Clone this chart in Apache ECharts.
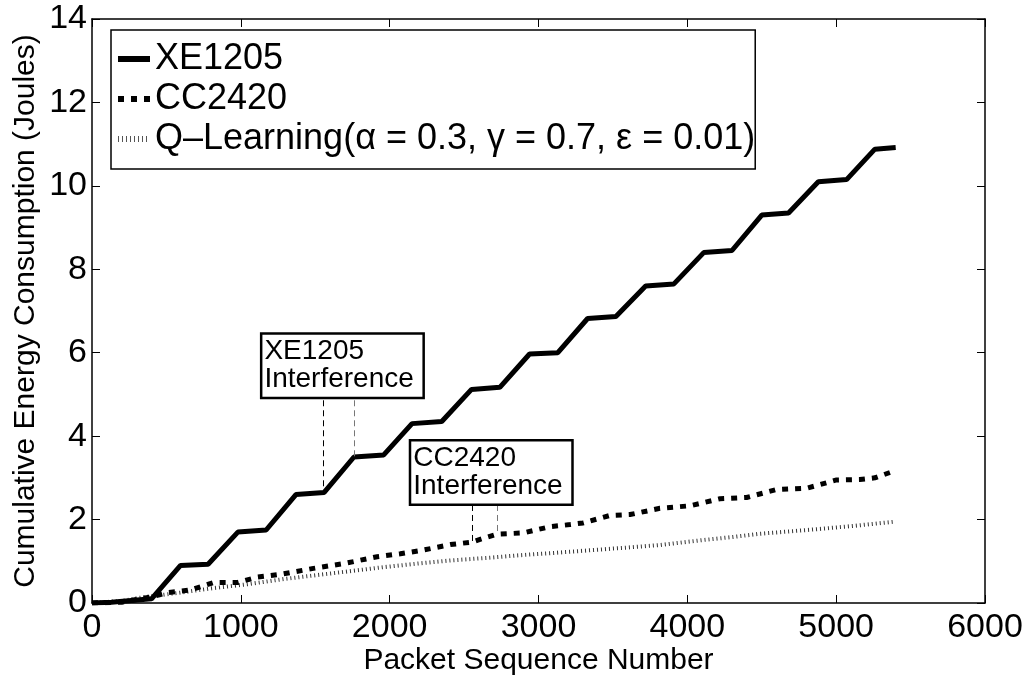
<!DOCTYPE html>
<html>

<head>
	<title>Cumulative Energy</title>
	<script src="https://cdn.jsdelivr.net/npm/echarts@6/dist/echarts.min.js"></script>
</head>

<body style="margin:0;background:#fff;">
	<div id="main" style="width: 1030px;height:677px;"></div>
	<script type="text/javascript">
	var myChart = echarts.init(document.getElementById('main'));

	// XE1205
	var xeX = [0, 130, 400, 595, 780, 980, 1170, 1370, 1560, 1760, 1960, 2150, 2350, 2550, 2740, 2940, 3130, 3330, 3520, 3720, 3910, 4110, 4300, 4500, 4680, 4880, 5070, 5260, 5400];
	var xeY = [0, 0.02, 0.1, 0.9, 0.93, 1.7, 1.75, 2.6, 2.65, 3.5, 3.55, 4.3, 4.35, 5.12, 5.17, 5.97, 6.0, 6.82, 6.87, 7.6, 7.65, 8.4, 8.45, 9.3, 9.35, 10.1, 10.15, 10.88, 10.92];

	// CC2420
	var ccX = [0, 200, 280, 400, 507, 662, 818, 977, 1112, 1287, 1488, 1700, 1916, 2072, 2227, 2408, 2553, 2630, 2722, 2897, 3078, 3212, 3300, 3481, 3615, 3816, 4017, 4219, 4398, 4600, 4801, 5003, 5159, 5260, 5394];
	var ccY = [0, 0.02, 0.07, 0.15, 0.25, 0.31, 0.49, 0.49, 0.62, 0.7, 0.83, 0.95, 1.11, 1.18, 1.27, 1.4, 1.46, 1.55, 1.65, 1.68, 1.83, 1.88, 1.92, 2.1, 2.12, 2.27, 2.33, 2.5, 2.53, 2.72, 2.75, 2.95, 2.96, 3.0, 3.17];

	// Q-Learning
	var qlX = [0, 200, 328, 596, 800, 1045, 1300, 1514, 1750, 1960, 2200, 2408, 2650, 2855, 3100, 3369, 3600, 3816, 4107, 4300, 4488, 4700, 4937, 5150, 5394];
	var qlY = [0, 0.05, 0.13, 0.25, 0.35, 0.45, 0.58, 0.67, 0.77, 0.86, 0.95, 1.02, 1.08, 1.14, 1.2, 1.27, 1.33, 1.39, 1.51, 1.58, 1.66, 1.72, 1.79, 1.86, 1.95];

	var seriesNames = ['XE1205', 'CC2420', 'Q\u2013Learning(\u03b1 = 0.3, \u03b3 = 0.7, \u03b5 = 0.01)'];

	// interference markers: [x, top, bottom]
	var xeMarks = [[1557, 4.86, 2.65], [1763, 4.86, 3.5]];
	var ccMarks = [[2553, 2.35, 1.48], [2721, 2.35, 1.66]];

	function pairs(xs, ys) {
		return xs.map(function(x, i) { return [x, ys[i]]; });
	}

	function vlines(marks) {
		return marks.map(function(m, i) {
			return [{
				coord: [m[0], m[1]],
				lineStyle: { color: i === 0 ? '#000' : '#777' }
			}, { coord: [m[0], m[2]] }];
		});
	}

	// legend icons drawn as little line samples
	var dotted = '';
	for (var i = 0; i < 32; i += 4) dotted += 'M' + i + ',0h1v6h-1Z';
	var icons = [
		'path://M0,0H32V6H0Z',
		'path://M0,0H6V6H0ZM13,0H19V6H13ZM26,0H32V6H26Z',
		'path://' + dotted + 'M0,0h0.01v0.01h-0.01ZM32,6h-0.01v-0.01h0.01Z'
	];

	var font = 'Liberation Sans, Arial, sans-serif';

	var boxLabel = {
		show: true,
		position: 'inside',
		align: 'left',
		verticalAlign: 'middle',
		fontFamily: font,
		fontSize: 28,
		lineHeight: 28,
		color: '#000',
		backgroundColor: '#fff',
		borderColor: '#000',
		borderWidth: 2.5,
		width: 152,
		padding: [3, 6, 3, 2]
	};

	function box(coord, text) {
		return {
			symbol: 'rect',
			symbolSize: 0,
			label: boxLabel,
			data: [{ coord: coord, value: text, label: { formatter: text } }]
		};
	}

	var ax = {
		axisLine: { onZero: false, lineStyle: { color: '#000', width: 1.5 } },
		axisTick: { inside: true, length: 8, lineStyle: { color: '#000', width: 1 } },
		splitLine: { show: false }
	};

	option = {
		animation: false,
		backgroundColor: '#fff',
		grid: {
			left: 92,
			right: 45,
			top: 19,
			bottom: 74,
			containLabel: false,
			outerBoundsMode: 'none'
		},
		legend: {
			orient: 'vertical',
			left: 111,
			top: 30,
			backgroundColor: '#fff',
			borderColor: '#000',
			borderWidth: 1.5,
			borderRadius: 0,
			padding: [-2, 0, -1, 7],
			itemGap: -22,
			itemWidth: 32,
			itemHeight: 6,
			textStyle: { fontFamily: font, fontSize: 36, lineHeight: 34, color: '#000', padding: [0, 0, 0, 0] },
			data: seriesNames.map(function(n, i) { return { name: n, icon: icons[i] }; })
		},
		xAxis: [Object.assign({
			type: 'value',
			min: 0,
			max: 6000,
			interval: 1000,
			name: 'Packet Sequence Number',
			nameLocation: 'middle',
			nameGap: 32,
			nameMoveOverlap: false,
			nameTextStyle: { fontFamily: font, fontSize: 30, color: '#000' },
			axisLabel: { fontFamily: font, fontSize: 34, color: '#000', margin: -5, formatter: function(v) { return String(v); } }
		}, ax), Object.assign({
			type: 'value',
			position: 'top',
			min: 0,
			max: 6000,
			interval: 1000,
			axisLabel: { show: false }
		}, ax)],
		yAxis: [Object.assign({
			type: 'value',
			min: 0,
			max: 14,
			interval: 2,
			name: 'Cumulative Energy Consumption (Joules)',
			nameLocation: 'middle',
			nameGap: 40,
			nameMoveOverlap: false,
			nameTextStyle: { fontFamily: font, fontSize: 30, color: '#000' },
			axisLabel: { fontFamily: font, fontSize: 34, color: '#000', margin: 5 }
		}, ax), Object.assign({
			type: 'value',
			position: 'right',
			min: 0,
			max: 14,
			interval: 2,
			axisLabel: { show: false }
		}, ax)],
		series: [{
			name: seriesNames[0],
			type: 'line',
			symbol: 'none',
			color: '#000',
			lineStyle: { color: '#000', width: 5 },
			data: pairs(xeX, xeY),
			markLine: {
				silent: true,
				symbol: 'none',
				label: { show: false },
				lineStyle: { type: [6, 4], width: 1 },
				data: vlines(xeMarks)
			},
			markPoint: box([1145, 5.69], 'XE1205\nInterference'),
			z: 3
		}, {
			name: seriesNames[1],
			type: 'line',
			symbol: 'none',
			color: '#000',
			lineStyle: { color: '#000', width: 5, type: [6, 7], cap: 'butt' },
			data: pairs(ccX, ccY),
			markLine: {
				silent: true,
				symbol: 'none',
				label: { show: false },
				lineStyle: { type: [6, 4], width: 1 },
				data: vlines(ccMarks)
			},
			markPoint: box([2145, 3.13], 'CC2420\nInterference'),
			z: 2
		}, {
			name: seriesNames[2],
			type: 'line',
			symbol: 'none',
			color: '#555',
			lineStyle: { color: '#333', width: 4, type: [1, 3], cap: 'butt' },
			data: pairs(qlX, qlY),
			z: 1
		}]
	};

	myChart.setOption(option);
	</script>
</body>

</html>
